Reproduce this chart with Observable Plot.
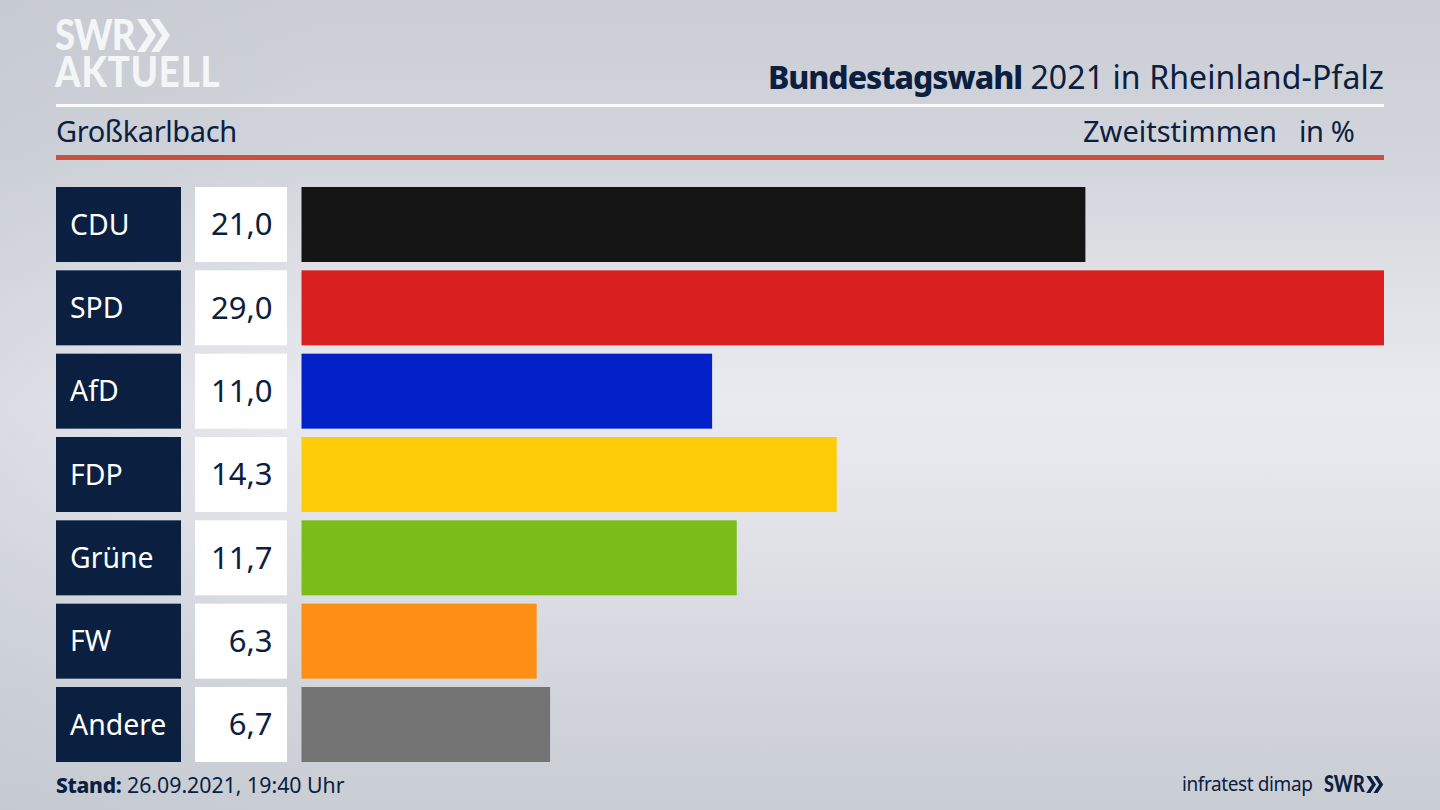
<!DOCTYPE html>
<html lang="de">
<head>
<meta charset="utf-8">
<script src="https://cdn.jsdelivr.net/npm/d3@7"></script>
<script src="https://cdn.jsdelivr.net/npm/@observablehq/plot@0.6"></script>
<style>
  html, body { margin:0; padding:0; }
  body { width:1440px; height:810px; overflow:hidden; position:relative; font-family:"Noto Sans",sans-serif; color:#0b2040;
    background: linear-gradient(90deg, rgba(190,195,205,.35), rgba(190,195,205,0) 22%),
                linear-gradient(180deg, #cbced5 0%, #d1d4da 18%, #e2e3e9 38%, #e9eaef 50%, #e3e5ea 62%, #d2d5db 85%, #c9cdd4 100%); }
  .t { position:absolute; white-space:nowrap; line-height:1; }
  .logo { font-family:Lato,sans-serif; font-weight:900; line-height:.75; transform-origin:left top; }
  .rule { position:absolute; left:56px; width:1328px; }
  .col { position:absolute; top:187px; }
  svg.chev { position:absolute; }
</style>
</head>
<body>
<div class="t logo" style="left:55px;top:16px;font-size:42px;line-height:37px;color:#f4f5f7;transform:scaleX(.87)"><span style="letter-spacing:-1px">SWR</span><br><span style="letter-spacing:1px">AKTUELL</span></div>
<svg class="chev" style="left:137px;top:19px" width="34" height="33" viewBox="0 0 34 33"><path d="M0 0H8L19 16.5 8 33H0L11 16.5ZM14 0H22L33 16.5 22 33H14L25 16.5Z" fill="#f4f5f7"/></svg>
<div class="t" id="title" style="right:56px;top:61px;font-size:32px;letter-spacing:.1px"><b style="font-weight:800;font-size:32px;letter-spacing:-1.05px">Bundestagswahl</b> 2021 in Rheinland-Pfalz</div>
<div class="rule" style="top:104px;height:3px;background:#fbfbfc"></div>
<div class="t" style="left:56px;top:116px;font-size:29px;letter-spacing:-.4px">Großkarlbach</div>
<div class="t" style="left:1083px;top:116px;font-size:29px">Zweitstimmen</div>
<div class="t" style="left:1299px;top:116px;font-size:29px;letter-spacing:-.4px">in %</div>
<div class="rule" style="top:155px;height:5px;background:#c9523e"></div>
<div class="col" id="names" style="left:56px"></div>
<div class="col" id="vals" style="left:195px"></div>
<div class="col" id="bars" style="left:301px"></div>
<div class="t" style="left:56px;top:774px;font-size:21.3px"><b style="font-weight:800;font-size:21px;letter-spacing:-.3px">Stand:</b> 26.09.2021, 19:40 Uhr</div>
<div class="t" style="left:1182px;top:775px;font-size:19px;letter-spacing:-.4px">infratest dimap</div>
<div class="t logo" style="left:1324px;top:776px;font-size:22px;transform:scaleX(.82)">SWR</div>
<svg class="chev" style="left:1366px;top:776px" width="18" height="17" viewBox="0 0 34 33"><path d="M0 0H8L19 16.5 8 33H0L11 16.5ZM14 0H22L33 16.5 22 33H14L25 16.5Z" fill="#0b2040"/></svg>
<script>
const parties = ["CDU","SPD","AfD","FDP","Grüne","FW","Andere"];
const shares  = [21.0, 29.0, 11.0, 14.34, 11.66, 6.3, 6.66];
const colors  = ["#141414","#da201e","#0120c8","#ffcc08","#7abd18","#ff8e14","#737374"];
const navy = "#0b2040";
const rows = parties.map((party,i)=>({party, share:shares[i], color:colors[i]}));
const fmt = d3.formatLocale({decimal:",",thousands:".",grouping:[3],currency:["","€"]}).format(".1f");
const yScale = {domain:parties, axis:null, paddingInner:0.1, paddingOuter:0, round:false};
const base = {height:575, margin:0, y:yScale, style:{background:"transparent",overflow:"visible"}};
document.getElementById("names").append(Plot.plot({...base, width:125, marks:[
  Plot.cell(rows,{y:"party", fill:navy}),
  Plot.text(rows,{y:"party", text:"party", frameAnchor:"left", dx:13.5, dy:0.5, fill:"#fff", fontFamily:"Noto Sans", fontSize:28.4})
]}));
document.getElementById("vals").append(Plot.plot({...base, width:92, marks:[
  Plot.cell(rows,{y:"party", fill:"#fff"}),
  Plot.text(rows,{y:"party", text:d=>fmt(d.share), frameAnchor:"right", dx:-15, dy:0.5, fill:navy, fontFamily:"Noto Sans", fontSize:31})
]}));
document.getElementById("bars").append(Plot.plot({...base, width:1083, marginLeft:0.5,
  x:{domain:[0,29], axis:null},
  marks:[ Plot.barX(rows,{y:"party", x:"share", fill:d=>d.color}) ]
}));
</script>
</body>
</html>
